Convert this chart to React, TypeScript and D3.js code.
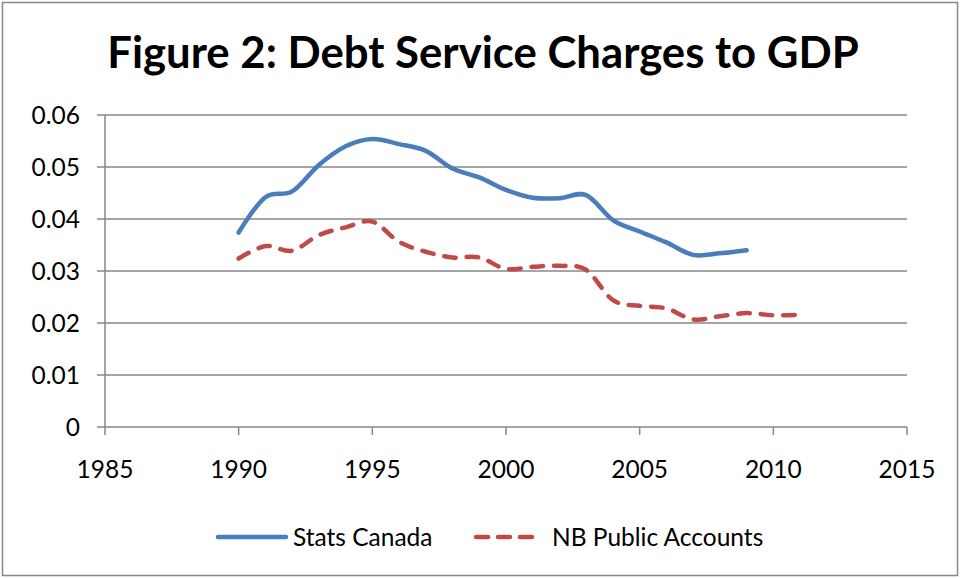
import React from "react";
import * as d3 from "d3";

const years = [1990, 1991, 1992, 1993, 1994, 1995, 1996, 1997, 1998, 1999, 2000, 2001, 2002, 2003, 2004, 2005, 2006, 2007, 2008, 2009, 2010, 2011];
const statsCanada = [0.0374, 0.0442, 0.0453, 0.0504, 0.0540, 0.0554, 0.0544, 0.0531, 0.0497, 0.0480, 0.0456, 0.0441, 0.0440, 0.0446, 0.0398, 0.0376, 0.0355, 0.0331, 0.0334, 0.0340];
const nbPublicAccounts = [0.0324, 0.0348, 0.0339, 0.0369, 0.0384, 0.0395, 0.0356, 0.0337, 0.0326, 0.0326, 0.0304, 0.0308, 0.0310, 0.0302, 0.0244, 0.0233, 0.0228, 0.0207, 0.0213, 0.0219, 0.0215, 0.0216];
const xTicks = [1985, 1990, 1995, 2000, 2005, 2010, 2015];
const yTicks = [0, 0.01, 0.02, 0.03, 0.04, 0.05, 0.06];
const yTickLabels = ["0", "0.01", "0.02", "0.03", "0.04", "0.05", "0.06"];
const seriesNames = ["Stats Canada", "NB Public Accounts"];
const title = "Figure 2: Debt Service Charges to GDP";

const W = 963, H = 578;
const FONT = "Lato, 'Open Sans', sans-serif";
const FS = 24.5;

export default function App() {
  const x = d3.scaleLinear().domain([1985, 2015]).range([105, 907]);
  const y = d3.scaleLinear().domain([0, 0.06]).range([427, 115]);
  const line = d3
    .line<[number, number]>()
    .x((d) => x(d[0]))
    .y((d) => y(d[1]))
    .curve(d3.curveCardinal.tension(0));
  const blue = statsCanada.map((v, i) => [years[i], v] as [number, number]);
  const red = nbPublicAccounts.map((v, i) => [years[i], v] as [number, number]);
  const grid = "#878787";
  return (
    <div style={{ position: "absolute", left: 0, top: 0 }}>
      <svg width={W} height={H} style={{ display: "block" }}>
        <rect x={0} y={0} width={W} height={H} fill="#fff" />
        <rect x={2.5} y={2.5} width={955} height={573} fill="none" stroke="#888" strokeWidth={1.5} />
        <text x={483} y={68} textAnchor="middle" fontFamily={FONT} fontWeight={700} fontSize={43.7} fill="#000">
          {title}
        </text>
        {yTicks.map((t, i) => (
          <g key={"y" + i}>
            {t > 0 && <line x1={105} x2={907} y1={y(t)} y2={y(t)} stroke={grid} strokeWidth={1.5} />}
            <line x1={97} x2={105} y1={y(t)} y2={y(t)} stroke={grid} strokeWidth={1.5} />
            <text x={80} y={y(t) + 8.5} textAnchor="end" fontFamily={FONT} fontSize={FS} fill="#000">
              {yTickLabels[i]}
            </text>
          </g>
        ))}
        <line x1={105} x2={105} y1={115} y2={427} stroke={grid} strokeWidth={1.5} />
        <line x1={105} x2={907} y1={427} y2={427} stroke={grid} strokeWidth={1.5} />
        {xTicks.map((t) => (
          <g key={"x" + t}>
            <line x1={x(t)} x2={x(t)} y1={427} y2={435} stroke={grid} strokeWidth={1.5} />
            <text x={x(t)} y={478} textAnchor="middle" fontFamily={FONT} fontSize={FS} fill="#000">
              {t}
            </text>
          </g>
        ))}
        <path d={line(red) || ""} fill="none" stroke="#be4b48" strokeWidth={4.5} strokeDasharray="11.5 11" strokeLinecap="round" />
        <path d={line(blue) || ""} fill="none" stroke="#4a7ebb" strokeWidth={4.5} strokeLinecap="round" />
        <line x1={218} x2={286} y1={537} y2={537} stroke="#4a7ebb" strokeWidth={4.5} strokeLinecap="round" />
        <text x={293} y={546} fontFamily={FONT} fontSize={FS} fill="#000">{seriesNames[0]}</text>
        <line x1={476} x2={535} y1={537} y2={537} stroke="#be4b48" strokeWidth={4.5} strokeDasharray="12 10" strokeLinecap="round" />
        <text x={552} y={546} fontFamily={FONT} fontSize={FS} fill="#000">{seriesNames[1]}</text>
      </svg>
    </div>
  );
}
